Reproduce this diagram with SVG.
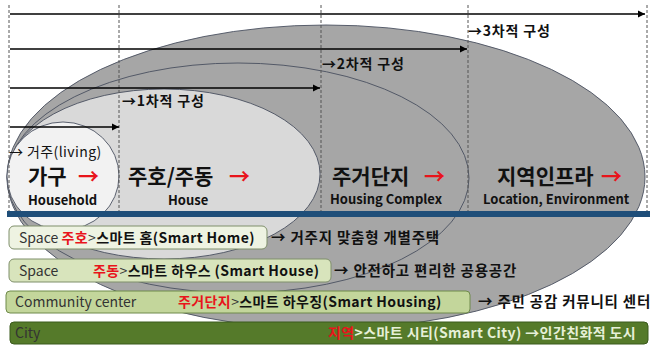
<svg xmlns="http://www.w3.org/2000/svg" width="650" height="348" viewBox="0 0 650 348">
<defs>
<marker id="ah" viewBox="0 0 10 10" refX="10" refY="5" markerWidth="5" markerHeight="5" orient="auto" markerUnits="strokeWidth">
<path d="M0,0 L10,5 L0,10 z" fill="#000"/>
</marker>
<style>
.ell{stroke:#4a5060;stroke-width:0.9}
.dash{stroke:#555;stroke-width:1;stroke-dasharray:3,2}
.arr{stroke:#000;stroke-width:1.5;fill:none}
text{font-family:"Noto Sans CJK KR","Noto Sans",sans-serif}
.lvl{font-size:14px;font-weight:bold;fill:#111;letter-spacing:0.8px}
.big{font-size:21px;font-weight:bold;fill:#111}
.sub{font-size:13px;font-weight:bold;fill:#111}
.red{fill:#e8141b}
.bar{stroke-width:1}
.bt{font-size:14px;fill:#333}
.bk{font-size:14px;letter-spacing:0.4px}
.bb{font-weight:bold;fill:#111}
.rt{font-size:14.5px;font-weight:bold;fill:#111;letter-spacing:0.8px}
</style>
</defs>
<rect width="650" height="348" fill="#fff"/>
<g id="ellipse-region">
<ellipse class="ell" cx="326" cy="177" rx="319" ry="152" fill="#a6a6a6"/>
</g>
<g id="ellipse-complex">
<ellipse class="ell" cx="238" cy="178" rx="231" ry="115" fill="#a6a6a6"/>
</g>
<g id="ellipse-house">
<ellipse class="ell" cx="164" cy="174" rx="156" ry="85" fill="#d9d9d9"/>
</g>
<g id="ellipse-household">
<ellipse class="ell" cx="63" cy="176" rx="56" ry="54" fill="#f2f2f2"/>
</g>
<g id="connectors">
<line class="dash" x1="9" y1="5" x2="9" y2="211"/>
<line class="dash" x1="119" y1="5" x2="119" y2="211"/>
<line class="dash" x1="321" y1="5" x2="321" y2="211"/>
<line class="dash" x1="468" y1="5" x2="468" y2="211"/>
<line class="dash" x1="647" y1="5" x2="647" y2="211"/>
<line class="arr" x1="10" y1="14" x2="645" y2="14" marker-end="url(#ah)"/>
<line class="arr" x1="10" y1="49" x2="467" y2="49" marker-end="url(#ah)"/>
<line class="arr" x1="10" y1="88" x2="320" y2="88" marker-end="url(#ah)"/>
<line class="arr" x1="10" y1="127" x2="119" y2="127" marker-end="url(#ah)"/>
</g>
<g id="level-labels">
<text class="lvl" x="468" y="36">→3차적 구성</text>
<text class="lvl" x="322" y="69">→2차적 구성</text>
<text class="lvl" x="122" y="106">→1차적 구성</text>
<text x="9" y="157" font-size="14" fill="#111" letter-spacing="0.4">→ 거주(living)</text>
</g>
<g id="node-household">
<text class="big" x="28" y="184">가구</text>
<text class="big red" x="78" y="184">→</text>
<text class="sub" x="28" y="205">Household</text>
</g>
<g id="node-house">
<text class="big" x="128" y="184">주호/주동</text>
<text class="big red" x="229" y="184">→</text>
<text class="sub" x="168" y="205">House</text>
</g>
<g id="node-complex">
<text class="big" x="332" y="184">주거단지</text>
<text class="big red" x="424" y="184">→</text>
<text class="sub" x="330" y="204">Housing Complex</text>
</g>
<g id="node-region">
<text class="big" x="497" y="184">지역인프라</text>
<text class="big red" x="601" y="184">→</text>
<text class="sub" x="483" y="204">Location, Environment</text>
</g>
<rect x="7" y="211" width="643" height="6" fill="#1f4e79"/>
<g id="bar-home">
<rect class="bar" x="9" y="226" width="258" height="23" rx="5" fill="#eef3e2" stroke="#7f8f6a"/>
<text class="bt" x="19" y="243">Space <tspan class="bk red" font-weight="bold">주호</tspan><tspan class="bk">&gt;</tspan><tspan class="bk bb">스마트 홈(Smart Home)</tspan></text>
<text class="rt" x="271" y="243">→ 거주지 맞춤형 개별주택</text>
</g>
<g id="bar-house">
<rect class="bar" x="9" y="259" width="322" height="23" rx="5" fill="#d8e4bc" stroke="#7f8f6a"/>
<text class="bt" x="19" y="276">Space</text>
<text class="bt bk" x="93" y="276"><tspan class="red" font-weight="bold">주동</tspan>&gt;<tspan class="bb">스마트 하우스 (Smart House)</tspan></text>
<text class="rt" x="334" y="276">→ 안전하고 편리한 공용공간</text>
</g>
<g id="bar-housing">
<rect class="bar" x="6" y="291" width="464" height="22" rx="4" fill="#c3d69b" stroke="#6f8a4a"/>
<text class="bt" x="15" y="307">Community center</text>
<text class="bt bk" x="178" y="307"><tspan class="red" font-weight="bold">주거단지</tspan>&gt;<tspan class="bb">스마트 하우징(Smart Housing)</tspan></text>
<text class="rt" x="478" y="307">→ 주민 공감 커뮤니티 센터</text>
</g>
<g id="bar-city">
<rect class="bar" x="10" y="322" width="638" height="22" rx="4" fill="#557a2a" stroke="#3b5a1c"/>
<text class="bt" x="15" y="338" fill="#2a3a1a">City</text>
<text class="bt bk" x="328" y="338"><tspan class="red" font-weight="bold">지역</tspan><tspan fill="#e6f0d8" font-weight="bold">&gt;스마트 시티(Smart City) →인간친화적 도시</tspan></text>
</g>
</svg>
